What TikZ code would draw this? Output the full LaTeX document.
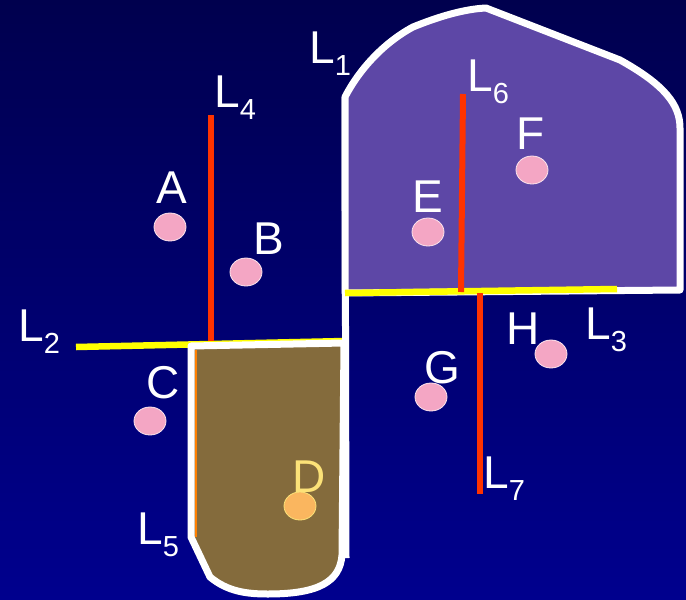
\documentclass[tikz,border=0pt]{standalone}
\usepackage{fontspec}
\setmainfont{Liberation Sans}
\usepackage{tikz}
\usetikzlibrary{shapes.geometric, positioning}
\definecolor{bgtop}{RGB}{0,0,78}
\definecolor{bgbot}{RGB}{0,0,142}
\definecolor{regpurple}{RGB}{93,71,166}
\definecolor{regbrown}{RGB}{132,107,60}
\definecolor{ptpink}{RGB}{244,166,196}
\definecolor{ptorange}{RGB}{250,182,95}
\definecolor{ptyellow}{RGB}{252,226,120}
\definecolor{cutred}{RGB}{255,51,0}
\definecolor{cutyellow}{RGB}{255,255,0}
\definecolor{edgeorange}{RGB}{255,128,0}
\tikzset{
  region/.style={draw=white, line width=7pt, line join=round},
  wall/.style={draw=white, line width=7pt},
  redcut/.style={draw=cutred, line width=6pt},
  yellowcut/.style={draw=cutyellow, line width=6.5pt},
  point/.style={ellipse, fill=ptpink, draw=white!70!ptpink, line width=0.8pt,
    minimum width=32pt, minimum height=28pt, inner sep=0pt},
  ptlabel/.style={text=white, font=\fontsize{46}{50}\selectfont, inner sep=0pt, anchor=base},
  linelabel/.style={text=white, font=\fontsize{46}{50}\selectfont, inner sep=0pt, anchor=base west}
}
\newcommand{\Lname}[1]{L\raisebox{-12pt}{\fontsize{29}{30}\selectfont #1}}

\begin{document}
\begin{tikzpicture}[x=1pt, y=-1pt]

  % Background
  \useasboundingbox (0,0) rectangle (686,600);
  \shade[top color=bgtop, bottom color=bgbot] (0,0) rectangle (686,600);

  % Lower cut and brown region
  \draw[yellowcut] (76,347) -- (345,341);
  \path[region, fill=regbrown] (191,346) -- (191,537) -- (210,577)
    .. controls (228,592) and (248,594) .. (268,594)
    .. controls (318,594) and (340,582) .. (342,555) -- (344,343) -- cycle;
  \draw[edgeorange, line width=2pt] (196,350) -- (196,537);

  % Wall L1 and purple region
  \draw[wall] (345,97) -- (346,558);
  \path[region, fill=regpurple] (345,293) -- (345,97)
    .. controls (360,68) and (385,42) .. (413,27)
    .. controls (440,16) and (465,9) .. (486,8) -- (620,60)
    .. controls (665,85) and (680,105) .. (680,128) -- (680,290) -- cycle;
  \draw[yellowcut] (345,293) -- (617,289);

  % Red cuts
  \draw[redcut] (211,115) -- (211,341);
  \draw[redcut] (463,94) -- (461,292);
  \draw[redcut] (480,293) -- (480,494);

  % Points
  \node[point] (dotA) at (170,227) {};
  \node[point] (dotB) at (246,272) {};
  \node[point] (dotC) at (150,421) {};
  \node[point, fill=ptorange, draw=ptyellow] (dotD) at (300,506) {};
  \node[point] (dotE) at (428,232) {};
  \node[point] (dotF) at (532,170) {};
  \node[point] (dotG) at (431,397) {};
  \node[point] (dotH) at (551,354) {};

  \node[ptlabel] (labA) at (172,203) {A};
  \node[ptlabel] (labB) at (269,254) {B};
  \node[ptlabel] (labC) at (163,398) {C};
  \node[ptlabel, text=ptyellow] (labD) at (309,492) {D};
  \node[ptlabel] (labE) at (428,212) {E};
  \node[ptlabel] (labF) at (531,149) {F};
  \node[ptlabel] (labG) at (442,383) {G};
  \node[ptlabel] (labH) at (523,344) {H};

  % Line names
  \node[linelabel] (labL1) at (309,63) {\Lname{1}};
  \node[linelabel] (labL2) at (18,341) {\Lname{2}};
  \node[linelabel] (labL3) at (585,339) {\Lname{3}};
  \node[linelabel] (labL4) at (214,107) {\Lname{4}};
  \node[linelabel] (labL5) at (137,544) {\Lname{5}};
  \node[linelabel] (labL6) at (467,91) {\Lname{6}};
  \node[linelabel] (labL7) at (483,488) {\Lname{7}};

\end{tikzpicture}
\end{document}
